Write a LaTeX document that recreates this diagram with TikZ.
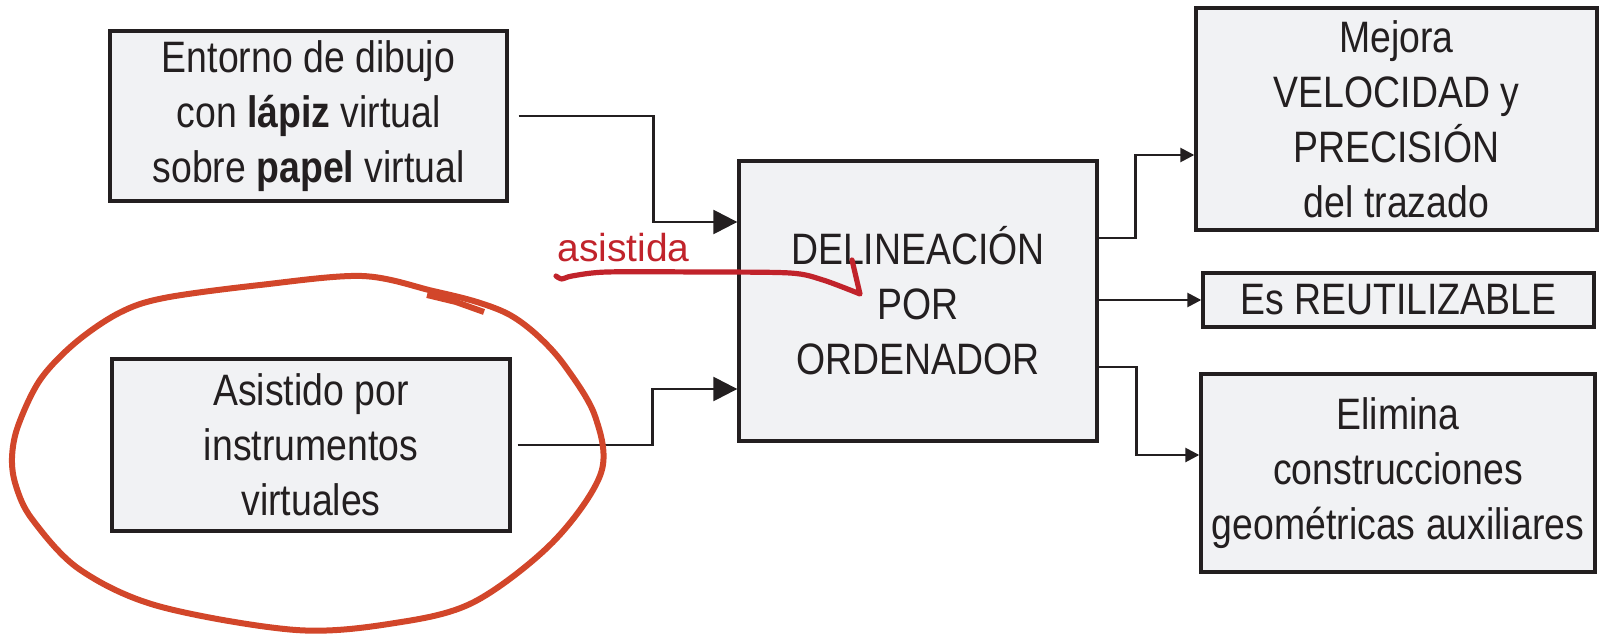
\documentclass[tikz,border=0pt]{standalone}
\usepackage{fontspec}
\setmainfont[FakeStretch=0.85]{Liberation Sans}
\newfontfamily\annfont{Liberation Sans}
\usetikzlibrary{arrows.meta}
\definecolor{boxfill}{HTML}{F1F2F4}
\definecolor{ink}{HTML}{231F20}
\definecolor{penred}{HTML}{C1232B}
\definecolor{circred}{HTML}{D2462A}
\begin{document}
\begin{tikzpicture}[x=0.5pt,y=-0.5pt,
  box/.style={draw=ink,line width=1.7pt,fill=boxfill,align=center,inner sep=0pt,text=ink,font=\fontsize{22}{27.5}\selectfont},
  conn/.style={draw=ink,line width=1.3pt},
  bigarr/.style={conn,-{Triangle[length=12pt,width=12pt]}},
  smallarr/.style={conn,-{Triangle[length=7pt,width=7pt]}},
  pen/.style={line cap=round,line join=round}
  ]
\useasboundingbox (0,0) rectangle (1599,636);

\node[box,minimum width=198.5pt,minimum height=85pt] (A) at (308.5,116)
  {Entorno de dibujo\\con \textbf{lápiz} virtual\\sobre \textbf{papel} virtual};
\node[box,minimum width=199pt,minimum height=86pt] (B) at (311,445)
  {Asistido por\\instrumentos\\virtuales};
\node[box,minimum width=179pt,minimum height=140pt] (C) at (918,301)
  {DELINEACIÓN\\POR\\ORDENADOR};
\node[box,minimum width=200.5pt,minimum height=111pt] (R1) at (1396.5,119)
  {Mejora\\VELOCIDAD y\\PRECISIÓN\\del trazado};
\node[box,minimum width=195.5pt,minimum height=27pt] (R2) at (1398.5,300)
  {Es REUTILIZABLE};
\node[box,minimum width=197pt,minimum height=99pt] (R3) at (1398,473)
  {Elimina\\construcciones\\geométricas auxiliares};

\draw[bigarr] ([xshift=5pt]A.east) -| ([xshift=-42pt,yshift=39.5pt]C.west) -- ([yshift=39.5pt]C.west);
\draw[bigarr] ([xshift=3pt]B.east) -| ([xshift=-42.5pt,yshift=-44pt]C.west) -- ([yshift=-44pt]C.west);

\draw[smallarr] ([yshift=31.5pt]C.east) -| ([xshift=-29.5pt,yshift=-18pt]R1.west) -- ([yshift=-18pt]R1.west);
\draw[smallarr] (C.east |- R2.west) -- (R2.west);
\draw[smallarr] ([yshift=-33pt]C.east) -| ([xshift=-31.5pt,yshift=9pt]R3.west) -- ([yshift=9pt]R3.west);

\node[text=penred,font=\annfont\fontsize{19.5}{22}\selectfont,anchor=base west,inner sep=0pt] (asist) at (557,261) {asistida};
\draw[penred,pen,line width=2.6pt] plot[smooth,tension=0.5] coordinates {(556,276) (562,279) (572,276) (607,272) (700,272) (790,273) (823,280) (860,294)} -- (852,260);

\draw[circred,pen,line width=3pt] plot[smooth cycle,tension=0.55] coordinates {
  (362,276) (260,285) (164,298) (119,313)
  (75,343) (40,380) (18,426) (12,458) (16,486) (32,519) (79,569) (158,606)
  (296,630) (395,623) (474,602) (553,542) (601,473) (595,416) (565,366)
  (538,336) (510,315) (477,302) (433,291)};
\draw[circred,line width=3pt] (427,295) -- (456,302) -- (484,312);
\end{tikzpicture}
\end{document}
